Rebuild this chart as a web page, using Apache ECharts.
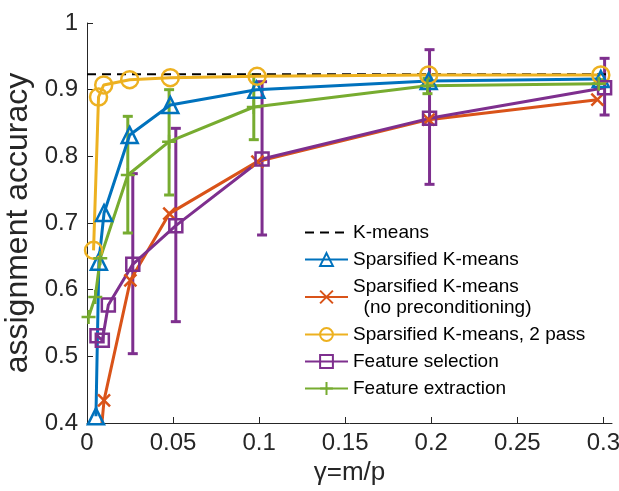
<!DOCTYPE html>
<html>
<head>
<meta charset="utf-8">
<script src="https://cdn.jsdelivr.net/npm/echarts@6/dist/echarts.min.js"></script>
<style>
  html, body { margin: 0; padding: 0; background: #fff; }
  #container { width: 619px; height: 491px; }
</style>
</head>
<body>
<div id="container"></div>
<script>
var dom = document.getElementById("container");
var myChart = echarts.init(dom);

// tick labels
var xTicks = [0, 0.05, 0.1, 0.15, 0.2, 0.25, 0.3];
var yTicks = [0.4, 0.5, 0.6, 0.7, 0.8, 0.9, 1];

// K-means reference level
var kmeansLevel = 0.923;

// Sparsified K-means
var xSparse = [0.0052, 0.0069, 0.0099, 0.0248, 0.0484, 0.0984, 0.1985, 0.2985];
var ySparse = [0.41, 0.642, 0.715, 0.832, 0.877, 0.900, 0.913, 0.916];

// Sparsified K-means (no preconditioning)
var xNoPre = [0.0069, 0.0099, 0.0252, 0.0478, 0.0990, 0.1985, 0.2965];
var yNoPre = [0.35, 0.434, 0.614, 0.714, 0.792, 0.855, 0.885];

// Sparsified K-means, 2 pass
var xTwoPass = [0.0038, 0.0067, 0.0097, 0.0248, 0.0484, 0.0988, 0.1985, 0.2985];
var yTwoPass = [0.659, 0.889, 0.907, 0.915, 0.918, 0.920, 0.922, 0.922];

// Feature selection (with error bars)
var xSel = [0.0058, 0.0089, 0.0124, 0.0266, 0.0516, 0.1017, 0.1990, 0.3007];
var ySel = [0.531, 0.524, 0.577, 0.638, 0.696, 0.796, 0.857, 0.903];
var selLow = [null, null, null, 0.504, 0.552, 0.682, 0.758, 0.862];
var selHigh = [null, null, null, 0.774, 0.842, 0.912, 0.960, 0.947];

// Feature extraction (with error bars)
var xExt = [0.0009, 0.0048, 0.0077, 0.0237, 0.0477, 0.0969, 0.1978, 0.2973];
var yExt = [0.559, 0.589, 0.647, 0.772, 0.822, 0.874, 0.906, 0.909];
var extLow = [null, null, null, 0.685, 0.742, 0.825, 0.894, 0.903];
var extHigh = [null, null, null, 0.860, 0.900, 0.922, 0.917, 0.915];

var names = ['K-means', 'Sparsified K-means', 'Sparsified K-means\n  (no preconditioning)',
    'Sparsified K-means, 2 pass', 'Feature selection', 'Feature extraction'];

var fontFam = "'Liberation Sans', Arial, Helvetica, sans-serif";
var axisColor = '#262626';

function pairs(xs, ys) {
    var out = [];
    for (var i = 0; i < xs.length; i++) out.push([xs[i], ys[i]]);
    return out;
}
function errPairs(xs, lo, hi) {
    var out = [];
    for (var i = 0; i < xs.length; i++) {
        if (lo[i] != null) out.push([xs[i], lo[i], hi[i]]);
    }
    return out;
}
function errRender(params, api) {
    var x = api.value(0);
    var top = api.coord([x, api.value(2)]);
    var bot = api.coord([x, api.value(1)]);
    var w = 5;
    var st = { stroke: api.visual('color'), lineWidth: 3 };
    return {
        type: 'group',
        children: [
            { type: 'line', shape: { x1: top[0], y1: top[1], x2: bot[0], y2: bot[1] }, style: st },
            { type: 'line', shape: { x1: top[0] - w, y1: top[1], x2: top[0] + w, y2: top[1] }, style: st },
            { type: 'line', shape: { x1: bot[0] - w, y1: bot[1], x2: bot[0] + w, y2: bot[1] }, style: st }
        ]
    };
}
function lineSeries(name, data, color, symbol, size) {
    return {
        name: name,
        type: 'line',
        data: data,
        symbol: symbol,
        symbolSize: size,
        showAllSymbol: true,
        lineStyle: { color: color, width: 3 },
        itemStyle: { color: 'rgba(0,0,0,0)', borderColor: color, borderWidth: 2.5 },
        emphasis: { disabled: true }
    };
}

var legendData = names.map(function (n, i) {
    if (i === 0) return { name: n, itemStyle: { opacity: 0 } };
    return { name: n };
});

option = {
    animation: false,
    grid: {
        left: 87,
        right: 7,
        top: 23,
        bottom: 68,
        outerBoundsMode: 'none'
    },
    legend: {
        orient: 'vertical',
        left: 299,
        top: 217,
        itemWidth: 43,
        itemHeight: 16,
        itemGap: 6,
        selectedMode: false,
        data: legendData,
        textStyle: {
            fontFamily: fontFam,
            fontSize: 19,
            lineHeight: 21,
            color: '#000'
        }
    },
    xAxis: {
        type: 'value',
        min: 0,
        max: 0.305,
        name: 'γ=m/p',
        nameLocation: 'middle',
        nameGap: 32,
        nameTextStyle: { fontFamily: fontFam, fontSize: 26, color: axisColor },
        splitLine: { show: false },
        axisLine: { lineStyle: { color: axisColor, width: 1 } },
        axisTick: { inside: true, length: 6, customValues: xTicks, lineStyle: { color: axisColor } },
        axisLabel: {
            customValues: xTicks,
            margin: 8,
            fontFamily: fontFam,
            fontSize: 24,
            color: axisColor,
            formatter: function (v) { return String(+v.toFixed(3)); }
        }
    },
    yAxis: {
        type: 'value',
        min: 0.4,
        max: 1,
        name: 'assignment accuracy',
        nameLocation: 'middle',
        nameGap: 49,
        nameTextStyle: { fontFamily: fontFam, fontSize: 32, color: axisColor },
        splitLine: { show: false },
        axisLine: { show: true, lineStyle: { color: axisColor, width: 1 } },
        axisTick: { inside: true, length: 6, customValues: yTicks, lineStyle: { color: axisColor } },
        axisLabel: {
            customValues: yTicks,
            margin: 9,
            fontFamily: fontFam,
            fontSize: 24,
            color: axisColor,
            formatter: function (v) { return String(+v.toFixed(2)); }
        }
    },
    series: [
        {
            name: names[0],
            type: 'line',
            data: [[0, kmeansLevel], [0.305, kmeansLevel]],
            symbol: 'none',
            lineStyle: { color: '#000', width: 2, type: [9, 6] },
            itemStyle: { color: '#000' },
            emphasis: { disabled: true }
        },
        lineSeries(names[1], pairs(xSparse, ySparse), '#0072BD', 'triangle', 16),
        lineSeries(names[2], pairs(xNoPre, yNoPre), '#D95319', 'path://M0,0L10,10M10,0L0,10', 12),
        lineSeries(names[3], pairs(xTwoPass, yTwoPass), '#EDB120', 'circle', 17),
        lineSeries(names[4], pairs(xSel, ySel), '#7E2F8E', 'rect', 13),
        {
            name: 'sel-err',
            type: 'custom',
            renderItem: errRender,
            data: errPairs(xSel, selLow, selHigh),
            encode: { x: 0, y: [1, 2] },
            itemStyle: { color: '#7E2F8E' },
            z: 3
        },
        lineSeries(names[5], pairs(xExt, yExt), '#77AC30', 'path://M5,0L5,10M0,5L10,5', 14),
        {
            name: 'ext-err',
            type: 'custom',
            renderItem: errRender,
            data: errPairs(xExt, extLow, extHigh),
            encode: { x: 0, y: [1, 2] },
            itemStyle: { color: '#77AC30' },
            z: 3
        }
    ]
};

myChart.setOption(option, true);
</script>
</body>
</html>
